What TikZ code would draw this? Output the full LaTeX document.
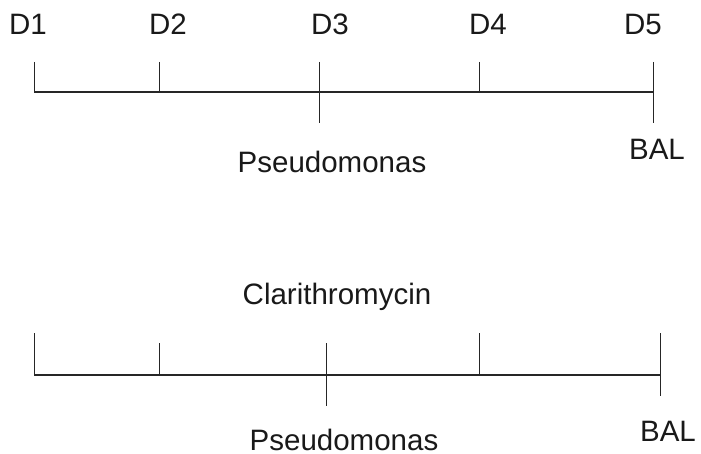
\documentclass[tikz,border=0pt]{standalone}
\usepackage{fontspec}
\setmainfont{Liberation Sans}
\usetikzlibrary{positioning}

\begin{document}
\begin{tikzpicture}[x=1pt, y=-1pt,
    every node/.style={font=\fontsize{29.5}{35}\selectfont, inner sep=0pt, anchor=base, text=black!90},
    axis/.style={line width=2pt, draw=black!85},
    tick/.style={line width=0.9pt, draw=black!85}]
    \useasboundingbox (0,0) rectangle (701,454);
    % upper time line
    \foreach \n/\x in {1/34,2/159,3/319,4/479,5/653}
    {
        \coordinate (u\n) at (\x,92);
        \coordinate (ut\n) at (\x,62);
    }
    \coordinate (ub3) at (319,123);
    \coordinate (ub5) at (653,123);
    \draw[axis] (u1) -- (u5);
    \foreach \n in {1,...,5}
        \draw[tick] (ut\n) -- (u\n);
    \draw[tick] (u3) -- (ub3);
    \draw[tick] (u5) -- (ub5);
    \foreach \n/\x in {1/28,2/168,3/330,4/488,5/643}
        \node (day\n) at (\x,35) {D\n};
    \node (pseudoup) at (332,173) {Pseudomonas};
    \node (balup) at (657,160) {BAL};
    % lower time line
    \foreach \n/\x/\t in {1/34/333,2/159/343,3/326/343,4/479/333,5/660/333}
    {
        \coordinate (l\n) at (\x,375);
        \coordinate (lt\n) at (\x,\t);
    }
    \coordinate (lb3) at (326,406);
    \coordinate (lb5) at (660,396);
    \draw[axis] (l1) -- (l5);
    \foreach \n in {1,...,5}
        \draw[tick] (lt\n) -- (l\n);
    \draw[tick] (l3) -- (lb3);
    \draw[tick] (l5) -- (lb5);
    \node (clari) at (337,305) {Clarithromycin};
    \node (pseudolow) at (344,450) {Pseudomonas};
    \node (ballow) at (668,441) {BAL};
\end{tikzpicture}
\end{document}
